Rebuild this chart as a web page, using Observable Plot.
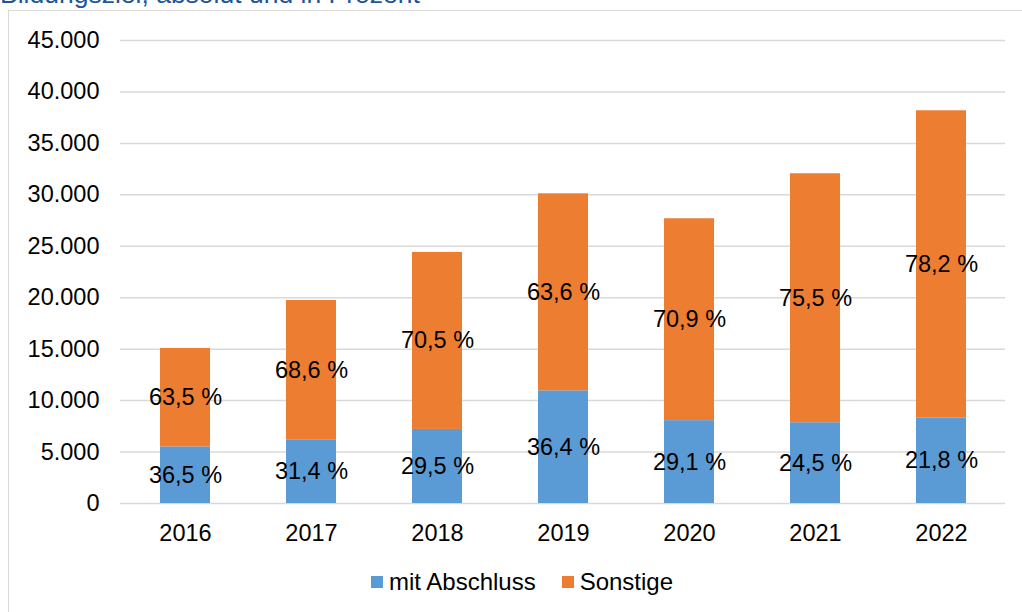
<!DOCTYPE html>
<html>
<head>
<meta charset="utf-8">
<script src="https://cdn.jsdelivr.net/npm/d3@7"></script>
<script src="https://cdn.jsdelivr.net/npm/@observablehq/plot@0.6"></script>
<style>
  body { margin: 0; background: #fff; font-family: "Liberation Sans", Arial, sans-serif; }
  #wrap { position: relative; width: 1022px; height: 612px; overflow: hidden; background: #fff; }
  #frame { position: absolute; left: 8px; top: 10px; width: 1100px; height: 700px; border: 1.5px solid #d9d9d9; box-sizing: border-box; }
  #title { position: absolute; left: 0px; top: -21px; font-size: 26.5px; color: #1F5596; white-space: nowrap; }
  #chart { position: absolute; left: 0; top: 0; }
  #legend { position: absolute; left: 0; width: 1022px; top: 568px; display: flex; justify-content: center; gap: 26px; font-size: 24px; color: #000; padding-left: 22px; box-sizing: border-box; }
  #legend span.item { display: flex; align-items: center; }
  #legend span.sw { display: inline-block; width: 12px; height: 12px; margin-right: 6px; }
</style>
</head>
<body>
<div id="wrap">
  <div id="frame"></div>
  <div id="title">Bildungsziel, absolut und in Prozent</div>
  <div id="chart"></div>
  <div id="legend"></div>
</div>
<script>
const years = ["2016", "2017", "2018", "2019", "2020", "2021", "2022"];
const seriesNames = ["mit Abschluss", "Sonstige"];
const seriesColors = ["#5B9BD5", "#ED7D31"];
const mitAbschluss = [5500, 6195, 7200, 10950, 8055, 7850, 8320];
const sonstige = [9570, 13535, 17200, 19150, 19620, 24200, 29850];
const mitAbschlussLabels = ["36,5 %", "31,4 %", "29,5 %", "36,4 %", "29,1 %", "24,5 %", "21,8 %"];
const sonstigeLabels = ["63,5 %", "68,6 %", "70,5 %", "63,6 %", "70,9 %", "75,5 %", "78,2 %"];
const yTicks = [0, 5000, 10000, 15000, 20000, 25000, 30000, 35000, 40000, 45000];

const rows = [];
years.forEach((yr, i) => {
  rows.push({year: yr, series: seriesNames[0], value: mitAbschluss[i], label: mitAbschlussLabels[i]});
  rows.push({year: yr, series: seriesNames[1], value: sonstige[i], label: sonstigeLabels[i]});
});

const de = d3.formatLocale({decimal: ",", thousands: ".", grouping: [3], currency: ["", " €"]});
const fmt = de.format(",.0f");

const plot = Plot.plot({
  width: 1022,
  height: 612,
  marginTop: 40,
  marginBottom: 109,
  marginLeft: 120,
  marginRight: 17,
  style: {fontFamily: '"Liberation Sans", Arial, sans-serif', fontSize: "23.5px", color: "#000", background: "transparent"},
  x: {type: "band", domain: years, paddingInner: 0.604, paddingOuter: 0.302, label: null},
  y: {domain: [0, 45000], label: null},
  color: {domain: seriesNames, range: seriesColors},
  marks: [
    Plot.ruleY(yTicks, {stroke: "#d9d9d9", strokeWidth: 1.5}),
    Plot.barY(rows, {x: "year", y: "value", z: "series", fill: "series"}),
    Plot.text(rows, Plot.stackY({x: "year", y: "value", z: "series", text: "label", fill: "#000", fontSize: 23.5})),
    Plot.axisY({ticks: yTicks, tickSize: 0, tickPadding: 21, tickFormat: fmt, label: null}),
    Plot.axisX({tickSize: 0, tickPadding: 21, label: null})
  ]
});
document.getElementById("chart").appendChild(plot);

const legend = document.getElementById("legend");
seriesNames.forEach((name, i) => {
  const item = document.createElement("span");
  item.className = "item";
  const sw = document.createElement("span");
  sw.className = "sw";
  sw.style.background = seriesColors[i];
  item.appendChild(sw);
  item.appendChild(document.createTextNode(name));
  legend.appendChild(item);
});
</script>
</body>
</html>
